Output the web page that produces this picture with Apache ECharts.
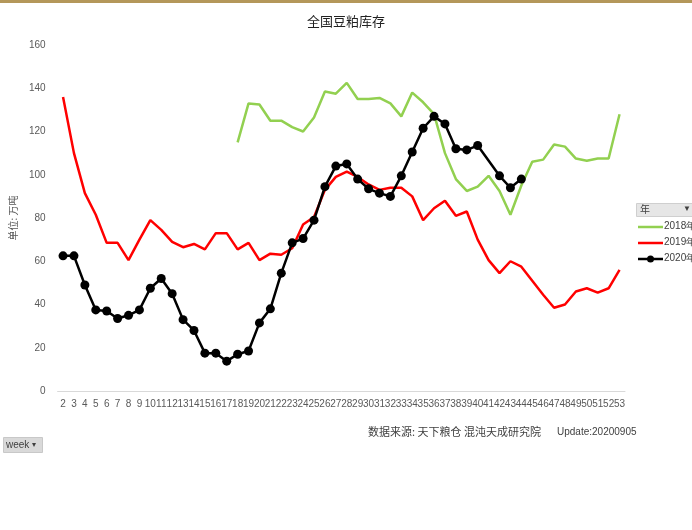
<!DOCTYPE html>
<html>
<head>
<meta charset="utf-8">
<script src="https://cdn.jsdelivr.net/npm/echarts@6/dist/echarts.min.js"></script>
<style>html,body{margin:0;padding:0;background:#fff;}#c{width:692px;height:530px;}</style>
</head>
<body>
<div id="c"></div>
<script>
var weeks = [];
for (var w = 2; w <= 53; w++) weeks.push(String(w));
var yTicks = [0, 20, 40, 60, 80, 100, 120, 140, 160];
var s2018 = [null,null,null,null,null,null,null,null,null,null,null,null,null,null,null,null,
  115,133,132.5,125,125,122,120,126.5,138.5,137.5,142.5,135,135,135.5,133,127,138,133.5,128,110,98,92.5,94.5,99.5,92.5,81.5,95,106,107,114,113,107.5,106.5,107.5,107.5,128];
var s2019 = [136,110,91.5,81.5,68.5,68.5,60.5,70,79,74.5,69,66.5,68,65.5,73,73,65.5,68.5,60.5,63.5,63,66,77,80.5,93,99,101.5,99,95.5,93,94,94,90,79,84.5,88,81,83,70,60.5,54.5,60,57.5,51,44.5,38.5,40,46,47.5,45.5,47.5,56];
var s2020 = [62.5,62.5,49,37.5,37,33.5,35,37.5,47.5,52,45,33,28,17.5,17.5,13.8,17,18.5,31.5,38,54.5,68.5,70.5,79,94.5,104,105,98,93.5,91.5,90,99.5,110.5,121.5,127,123.5,112,111.5,113.5,null,99.5,94,98,
  null,null,null,null,null,null,null,null,null];
var names = ['2018年', '2019年', '2020年'];
var colors = ['#92d050', '#ff0000', '#000000'];

var font = 'Liberation Sans, Arial, sans-serif';
var cjk = '"Noto Sans CJK SC", sans-serif';

var legendGraphics = [];
names.forEach(function (n, i) {
  var y = 227 + i * 16;
  legendGraphics.push({type: 'line', shape: {x1: 638, y1: y, x2: 663, y2: y}, style: {stroke: colors[i], lineWidth: 2.5}});
  if (i === 2) legendGraphics.push({type: 'circle', shape: {cx: 650.5, cy: y, r: 3.5}, style: {fill: colors[i]}});
  legendGraphics.push({type: 'text', x: 664, y: y - 6, style: {text: n, font: '10px ' + font, fill: '#404040'}});
});

var chart = echarts.init(document.getElementById('c'), null, {renderer: 'canvas'});
chart.setOption({
  animation: false,
  backgroundColor: '#ffffff',
  title: {
    text: '全国豆粕库存', left: 'center', top: 10,
    textStyle: {fontFamily: cjk, fontSize: 13, fontWeight: 'normal', color: '#222'}
  },
  grid: {left: 53, right: 67, top: 45, bottom: 139, containLabel: false},
  legend: {show: false, data: names},
  xAxis: {
    type: 'category', data: weeks, boundaryGap: true,
    axisLine: {lineStyle: {color: '#d9d9d9', width: 1}},
    axisTick: {show: false},
    axisLabel: {interval: 0, fontFamily: '"Liberation Sans Narrow", ' + font, fontSize: 10, color: '#595959', margin: 8}
  },
  yAxis: {
    type: 'value', min: yTicks[0], max: yTicks[yTicks.length - 1], interval: 20,
    name: '单位: 万吨', nameLocation: 'middle', nameGap: 36, nameRotate: 90,
    nameTextStyle: {fontFamily: cjk, fontSize: 10, color: '#595959'},
    axisLine: {show: false}, axisTick: {show: false}, splitLine: {show: false},
    axisLabel: {fontFamily: font, fontSize: 10, color: '#595959', margin: 12}
  },
  series: [
    {name: names[0], type: 'line', data: s2018, showSymbol: false, symbol: 'none',
      lineStyle: {color: colors[0], width: 2.5}, itemStyle: {color: colors[0]}},
    {name: names[1], type: 'line', data: s2019, showSymbol: false, symbol: 'none',
      lineStyle: {color: colors[1], width: 2.5}, itemStyle: {color: colors[1]}},
    {name: names[2], type: 'line', data: s2020, connectNulls: true, symbol: 'circle', symbolSize: 9,
      lineStyle: {color: colors[2], width: 2.5}, itemStyle: {color: colors[2]}}
  ],
  graphic: [
    {type: 'rect', left: 0, top: 0, shape: {width: 692, height: 3}, style: {fill: '#b4975a'}},
    {type: 'rect', left: 636, top: 203, shape: {width: 60, height: 13}, style: {fill: '#e6e6e6', stroke: '#cfcfcf'}},
    {type: 'text', left: 640, top: 204, style: {text: '年', font: '10px ' + cjk, fill: '#404040'}},
    {type: 'text', left: 683, top: 205, style: {text: '▼', font: '8px ' + font, fill: '#404040'}},
    {type: 'rect', left: 3, top: 437, shape: {width: 39, height: 15}, style: {fill: '#d9d9d9', stroke: '#c8c8c8'}},
    {type: 'text', left: 6, top: 440, style: {text: 'week', font: '10px ' + font, fill: '#404040'}},
    {type: 'text', left: 32, top: 441, style: {text: '▾', font: '8px ' + font, fill: '#404040'}},
    {type: 'text', left: 368, top: 426, style: {text: '数据来源: 天下粮仓 混沌天成研究院', font: '11px ' + cjk, fill: '#404040'}},
    {type: 'text', left: 557, top: 427, style: {text: 'Update:20200905', font: '10px ' + font, fill: '#404040'}}
  ].concat(legendGraphics)
});
</script>
</body>
</html>
